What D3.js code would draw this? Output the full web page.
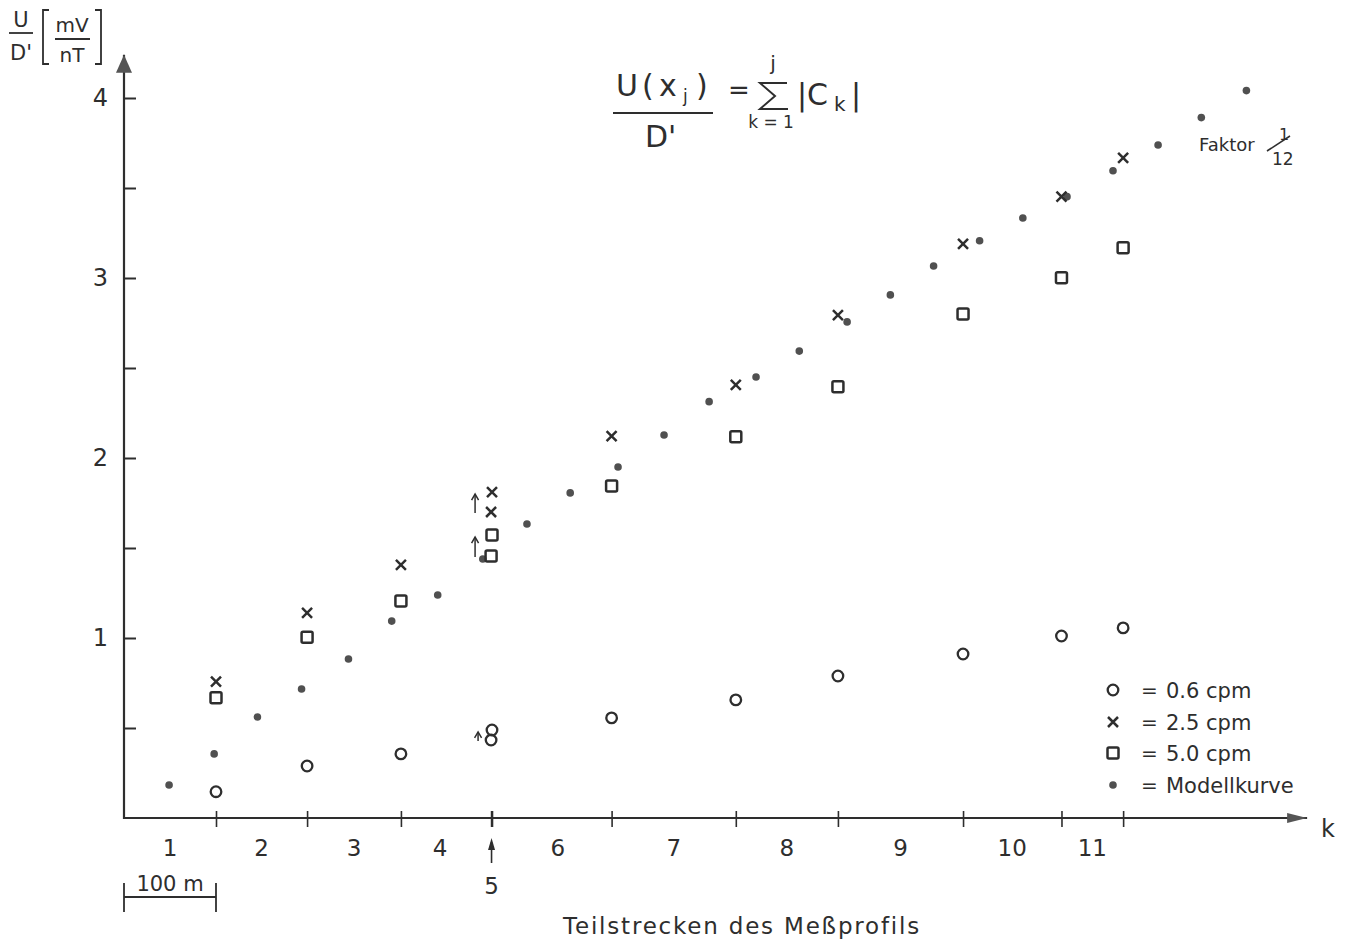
<!DOCTYPE html>
<html>
<head>
<meta charset="utf-8">
<script src="https://cdn.jsdelivr.net/npm/d3@7"></script>
<style>
  body { margin: 0; background: #fff; }
  text { font-family: "DejaVu Sans", sans-serif; fill: #2e2e2e; }
</style>
</head>
<body>
<div id="chart"></div>
<script>
// segment (Teilstrecke) labels and their end positions along the profile, metres
const segments = ["1", "2", "3", "4", "5", "6", "7", "8", "9", "10", "11"];
const segEnd = [100, 199, 301, 399, 400, 530, 665, 776, 912, 1019, 1086];

// U/D' at the end of each segment j
const cpm06 = [0.146, 0.289, 0.356, 0.433, 0.489, 0.556, 0.656, 0.789, 0.911, 1.011, 1.056];
const cpm25 = [0.757, 1.139, 1.406, 1.700, 1.811, 2.122, 2.406, 2.794, 3.189, 3.452, 3.668];
const cpm50 = [0.668, 1.004, 1.206, 1.456, 1.572, 1.844, 2.118, 2.396, 2.800, 3.002, 3.168];

// model curve (Modellkurve), position in metres and value
const modelX = [49, 98, 145, 193, 244, 291, 341, 390, 438, 485, 537, 587, 636, 687, 734,
                786, 833, 880, 930, 977, 1025, 1075, 1124, 1171, 1220];
const modelY = [0.183, 0.356, 0.561, 0.717, 0.883, 1.094, 1.239, 1.439, 1.633, 1.806, 1.950,
                2.128, 2.313, 2.450, 2.594, 2.756, 2.906, 3.067, 3.207, 3.333, 3.452, 3.596,
                3.739, 3.891, 4.041];

const yTicks = [0.5, 1, 1.5, 2, 2.5, 3, 3.5, 4];
const legendLabels = ["0.6 cpm", "2.5 cpm", "5.0 cpm", "Modellkurve"];

const width = 1349, height = 943;
const ink = "#2e2e2e";

const svg = d3.select("#chart").append("svg")
  .attr("width", width).attr("height", height);

const x = d3.scaleLinear().domain([0, 1290]).range([124, 1310.8]);
const y = d3.scaleLinear().domain([0, 4]).range([818, 98]);

const defs = svg.append("defs");
defs.append("marker").attr("id", "arrX")
  .attr("viewBox", "0 0 20 10").attr("refX", 20).attr("refY", 5)
  .attr("markerWidth", 20).attr("markerHeight", 10).attr("markerUnits", "userSpaceOnUse")
  .attr("orient", "auto")
  .append("path").attr("d", "M0,0L20,5L0,10Z").attr("fill", "#555");
defs.append("marker").attr("id", "arrY")
  .attr("viewBox", "0 0 18 16").attr("refX", 18).attr("refY", 8)
  .attr("markerWidth", 18).attr("markerHeight", 16).attr("markerUnits", "userSpaceOnUse")
  .attr("orient", "auto")
  .append("path").attr("d", "M0,0L18,8L0,16Z").attr("fill", "#555");

// y axis
const yAxis = svg.append("g")
  .attr("transform", `translate(${x(0)},0)`)
  .call(d3.axisLeft(y).tickValues(yTicks).tickSizeInner(-12).tickSizeOuter(0).tickPadding(16)
    .tickFormat(d => Number.isInteger(d) ? d : ""));
yAxis.select(".domain").remove();
yAxis.selectAll("line").attr("stroke", ink).attr("stroke-width", 2);
yAxis.selectAll("text").attr("font-size", 24).attr("font-family", "DejaVu Sans").attr("fill", ink);
svg.append("line")
  .attr("x1", x(0)).attr("x2", x(0)).attr("y1", y(0) + 1).attr("y2", y(4.24))
  .attr("stroke", ink).attr("stroke-width", 2.2).attr("marker-end", "url(#arrY)");

// x axis
const xAxis = svg.append("g")
  .attr("transform", `translate(0,${y(0)})`)
  .call(d3.axisBottom(x).tickValues(segEnd).tickFormat("").tickSizeOuter(0));
xAxis.select(".domain").remove();
xAxis.selectAll("line").attr("y1", -7).attr("y2", 9).attr("stroke", ink).attr("stroke-width", 1.6);
svg.append("line")
  .attr("x1", x(0) - 1).attr("x2", x(1286)).attr("y1", y(0)).attr("y2", y(0))
  .attr("stroke", ink).attr("stroke-width", 2.2).attr("marker-end", "url(#arrX)");
svg.append("text").attr("x", x(1286) + 14).attr("y", y(0) + 19)
  .attr("font-size", 24).text("k");

// segment labels at segment midpoints (5 is drawn below with an arrow)
const segStart = [0].concat(segEnd.slice(0, -1));
svg.append("g").selectAll("text")
  .data(segments.map((s, i) => ({ s, mid: (segStart[i] + segEnd[i]) / 2 })))
  .join("text")
  .attr("x", d => x(d.mid) + (d.s === "4" ? -6 : d.s === "6" ? 6 : 0))
  .attr("y", d => d.s === "5" ? 894 : 856)
  .attr("text-anchor", "middle")
  .attr("font-size", 23)
  .text(d => d.s);
const mid5 = (segStart[4] + segEnd[4]) / 2;
svg.append("line").attr("x1", x(mid5)).attr("x2", x(mid5)).attr("y1", 863).attr("y2", 842)
  .attr("stroke", ink).attr("stroke-width", 1.6);
svg.append("path")
  .attr("d", `M${x(mid5) - 3.5},${850}L${x(mid5)},${838}L${x(mid5) + 3.5},${850}Z`)
  .attr("fill", ink);

// 100 m scale bar
const bar = svg.append("g").attr("stroke", ink).attr("stroke-width", 1.8);
bar.append("line").attr("x1", x(0)).attr("x2", x(100)).attr("y1", 897).attr("y2", 897);
bar.append("line").attr("x1", x(0)).attr("x2", x(0)).attr("y1", 883).attr("y2", 912);
bar.append("line").attr("x1", x(100)).attr("x2", x(100)).attr("y1", 883).attr("y2", 912);
svg.append("text").attr("x", x(50)).attr("y", 891).attr("text-anchor", "middle")
  .attr("font-size", 21).text("100 m");

svg.append("text").attr("x", 742).attr("y", 934).attr("text-anchor", "middle")
  .attr("font-size", 23).attr("letter-spacing", 1.8).text("Teilstrecken des Meßprofils");

// y-axis unit label  U/D' [mV/nT]
const yl = svg.append("g");
yl.append("text").attr("x", 21).attr("y", 27).attr("text-anchor", "middle").attr("font-size", 21).text("U");
yl.append("line").attr("x1", 9).attr("x2", 33).attr("y1", 33).attr("y2", 33).attr("stroke", ink).attr("stroke-width", 1.8);
yl.append("text").attr("x", 21).attr("y", 60).attr("text-anchor", "middle").attr("font-size", 21).text("D'");
yl.append("path").attr("d", "M49,10H43V64H49").attr("fill", "none").attr("stroke", ink).attr("stroke-width", 1.8);
yl.append("path").attr("d", "M95,10H101V64H95").attr("fill", "none").attr("stroke", ink).attr("stroke-width", 1.8);
yl.append("text").attr("x", 72).attr("y", 32).attr("text-anchor", "middle").attr("font-size", 20).text("mV");
yl.append("line").attr("x1", 55).attr("x2", 90).attr("y1", 39).attr("y2", 39).attr("stroke", ink).attr("stroke-width", 1.8);
yl.append("text").attr("x", 72).attr("y", 62).attr("text-anchor", "middle").attr("font-size", 20).text("nT");

// formula
const f = svg.append("g");
f.append("text").attr("x", 616).attr("y", 96).attr("font-size", 30).text("U");
f.append("text").attr("x", 642).attr("y", 96).attr("font-size", 30).text("(");
f.append("text").attr("x", 659).attr("y", 96).attr("font-size", 30).text("x");
f.append("text").attr("x", 683).attr("y", 102).attr("font-size", 17).text("j");
f.append("text").attr("x", 696).attr("y", 96).attr("font-size", 30).text(")");
f.append("line").attr("x1", 613).attr("x2", 713).attr("y1", 113).attr("y2", 113).attr("stroke", ink).attr("stroke-width", 2.2);
f.append("text").attr("x", 645).attr("y", 147).attr("font-size", 30).text("D'");
f.append("text").attr("x", 728).attr("y", 99).attr("font-size", 26).text("=");
f.append("path").attr("d", "M787,83H760L775,96L760,109H788")
  .attr("fill", "none").attr("stroke", ink).attr("stroke-width", 2);
f.append("text").attr("x", 773).attr("y", 70).attr("text-anchor", "middle").attr("font-size", 20).text("j");
f.append("text").attr("x", 771).attr("y", 128).attr("text-anchor", "middle").attr("font-size", 17).text("k = 1");
f.append("text").attr("x", 797).attr("y", 105).attr("font-size", 30).text("|C");
f.append("text").attr("x", 834).attr("y", 111).attr("font-size", 20).text("k");
f.append("text").attr("x", 851).attr("y", 105).attr("font-size", 30).text("|");

// marker shapes
function drawCircle(g, cx, cy) {
  g.append("circle").attr("cx", cx).attr("cy", cy).attr("r", 5.3)
    .attr("fill", "none").attr("stroke", ink).attr("stroke-width", 2.3);
}
function drawCross(g, cx, cy) {
  g.append("path").attr("d", `M${cx - 5},${cy - 5}L${cx + 5},${cy + 5}M${cx - 5},${cy + 5}L${cx + 5},${cy - 5}`)
    .attr("stroke", ink).attr("stroke-width", 2.5).attr("fill", "none");
}
function drawSquare(g, cx, cy) {
  g.append("rect").attr("x", cx - 5.5).attr("y", cy - 5.5).attr("width", 11).attr("height", 11).attr("rx", 1.5)
    .attr("fill", "none").attr("stroke", ink).attr("stroke-width", 2.5);
}
function drawDot(g, cx, cy) {
  g.append("circle").attr("cx", cx).attr("cy", cy).attr("r", 3.8).attr("fill", "#505050");
}

const pts = svg.append("g");
modelX.forEach((m, i) => drawDot(pts, x(m), y(modelY[i])));
segEnd.forEach((m, i) => {
  drawCircle(pts, x(m), y(cpm06[i]));
  drawCross(pts, x(m), y(cpm25[i]));
  drawSquare(pts, x(m), y(cpm50[i]));
});

// small up arrows where segment 5 adds to segment 4
function upArrow(xp, yFrom, yTo) {
  pts.append("line").attr("x1", xp).attr("x2", xp).attr("y1", yFrom).attr("y2", yTo)
    .attr("stroke", ink).attr("stroke-width", 1.5);
  pts.append("path").attr("d", `M${xp - 3.5},${yTo + 6}L${xp},${yTo}L${xp + 3.5},${yTo + 6}`)
    .attr("stroke", ink).attr("stroke-width", 1.5).attr("fill", "none");
}
[cpm25, cpm50, cpm06].forEach((s, k) => {
  const xp = x(segEnd[3]) - (k === 2 ? 13 : 16);
  upArrow(xp, y(s[3]) + 1, y(s[4]) + 2);
});

// legend
const leg = svg.append("g");
const legY = [690, 722, 753, 785];
drawCircle(leg, 1113, legY[0]);
drawCross(leg, 1113, legY[1]);
drawSquare(leg, 1113, legY[2]);
drawDot(leg, 1113, legY[3]);
legendLabels.forEach((t, i) => {
  leg.append("text").attr("x", 1141).attr("y", legY[i] + 7).attr("font-size", 20).text("=");
  leg.append("text").attr("x", 1166).attr("y", legY[i] + 8).attr("font-size", 21).text(t);
});

// Faktor 1/12
svg.append("text").attr("x", 1199).attr("y", 151).attr("font-size", 18).text("Faktor");
svg.append("text").attr("x", 1279).attr("y", 140).attr("font-size", 16).text("1");
svg.append("line").attr("x1", 1267).attr("x2", 1290).attr("y1", 151).attr("y2", 136)
  .attr("stroke", ink).attr("stroke-width", 1.5);
svg.append("text").attr("x", 1272).attr("y", 165).attr("font-size", 17).text("12");
</script>
</body>
</html>
